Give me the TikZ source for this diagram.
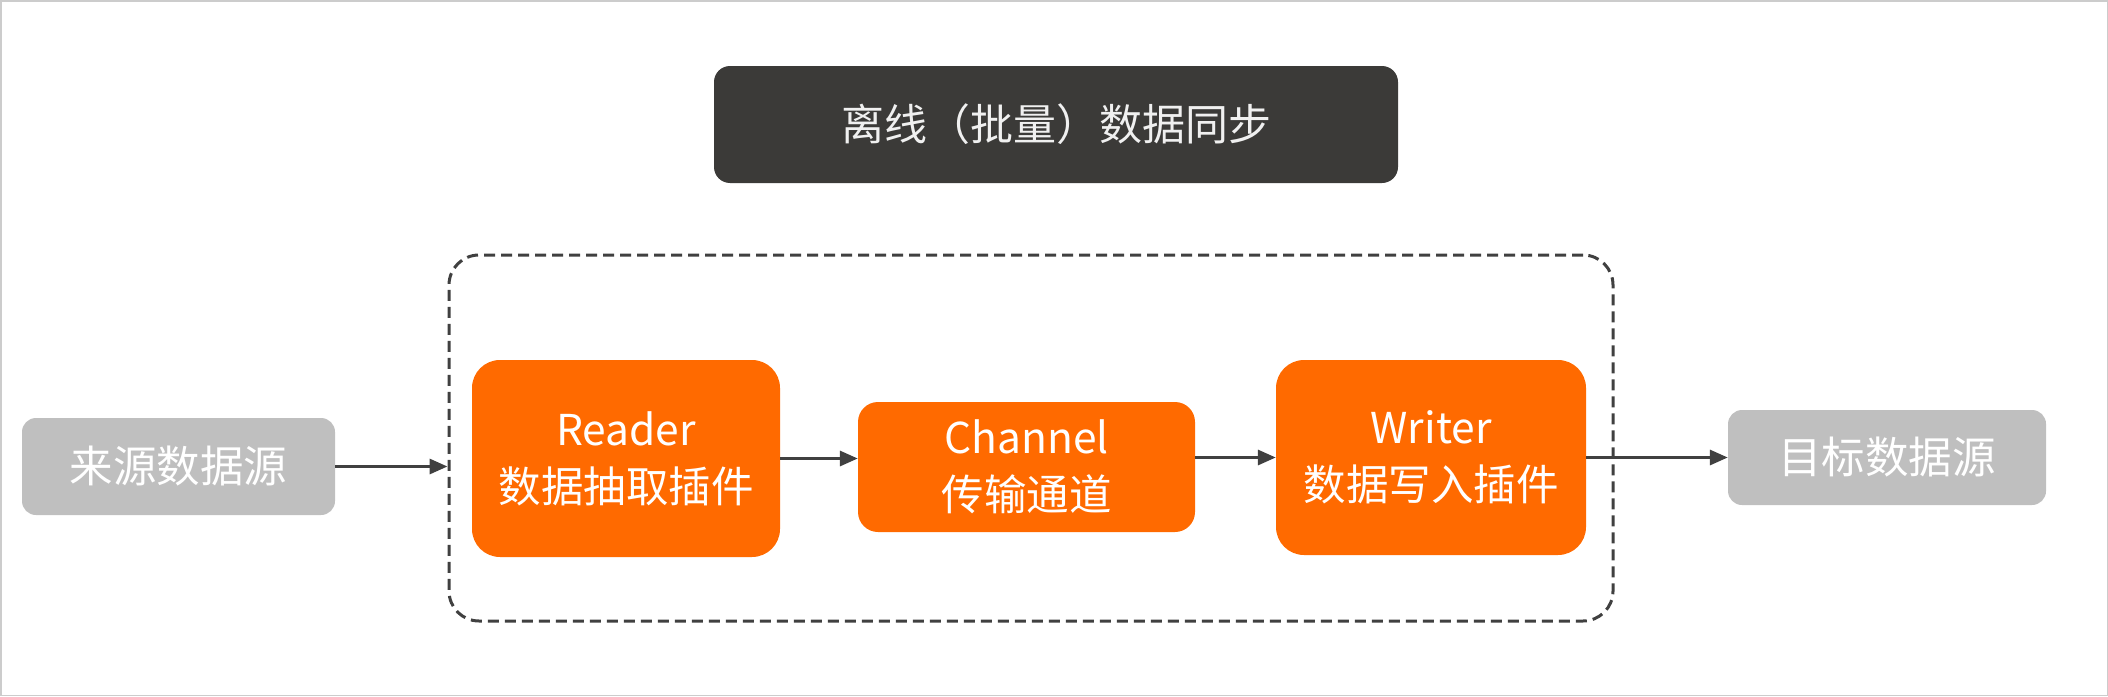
\documentclass[tikz,border=0pt]{standalone}
\usepackage{fontspec}
\setmainfont{Noto Sans CJK SC}
\usetikzlibrary{arrows.meta}
\definecolor{orng}{HTML}{FF6A00}
\definecolor{srcgray}{HTML}{BFBFBF}
\definecolor{titlebg}{HTML}{3B3A38}
\definecolor{linegray}{HTML}{404040}
\definecolor{framegray}{HTML}{CCCCCC}
\begin{document}
\begin{tikzpicture}[x=1pt,y=-1pt,
  orangebox/.style={fill=orng, rounded corners=28pt, text=white, align=center,
    font=\fontsize{42.5}{57}\selectfont, inner sep=0pt},
  graybox/.style={fill=srcgray, rounded corners=14pt, text=white, align=center,
    font=\fontsize{43.5}{50}\selectfont, inner sep=0pt},
  titlebox/.style={fill=titlebg, rounded corners=16pt, text=white!94!black, align=center,
    font=\fontsize{43}{50}\selectfont, inner sep=0pt},
  groupbox/.style={draw=linegray, line width=3pt, dash pattern=on 11pt off 6pt,
    rounded corners=30pt, inner sep=0pt},
  conn/.style={draw=linegray, line width=3.2pt, -{Triangle[length=18pt,width=15pt]}}]
\useasboundingbox (0,0) rectangle (2108,696);
\draw[framegray, line width=1.5pt] (0.75,0.75) rectangle (2107.25,695.25);
% title
\node[titlebox, minimum width=684pt, minimum height=117pt] (title) at (1056,124.5) {离线（批量）数据同步};
% dashed group
\node[groupbox, minimum width=1164pt, minimum height=366pt] (group) at (1031,438) {};
% inner boxes
\node[orangebox, minimum width=308pt, minimum height=197pt] (reader) at (626,458.5) {Reader\\数据抽取插件};
\node[orangebox, rounded corners=20pt, minimum width=337pt, minimum height=130pt] (channel) at (1026.5,467) {Channel\\传输通道};
\node[orangebox, minimum width=310pt, minimum height=195pt] (writer) at (1431,457.5) {Writer\\数据写入插件};
% sources
\node[graybox, minimum width=313pt, minimum height=97pt] (src) at (178.5,466.5) {来源数据源};
\node[graybox, minimum width=318pt, minimum height=95pt] (tgt) at (1887,457.5) {目标数据源};
% connectors
\draw[conn] (src.east) -- (src.east -| group.west);
\draw[conn] (reader.east) -- (reader.east -| channel.west);
\draw[conn] (writer.west -| channel.east) -- (writer.west);
\draw[conn] (writer.east) -- (tgt.west);
\end{tikzpicture}
\end{document}
